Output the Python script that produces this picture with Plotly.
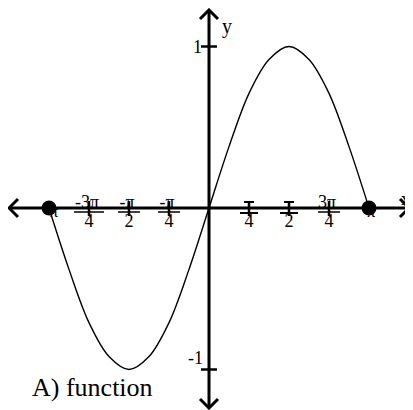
import math
import plotly.graph_objects as go

# curve samples, x in units of pi, y
x_pi = [-1, -0.875, -0.75, -0.625, -0.5, -0.375, -0.25, -0.125, 0,
        0.125, 0.25, 0.375, 0.5, 0.625, 0.75, 0.875, 1]
y_vals = [0, -0.38, -0.71, -0.92, -1.0, -0.92, -0.71, -0.38, 0,
          0.38, 0.71, 0.92, 1.0, 0.92, 0.71, 0.38, 0]

# tick marks on the x axis (units of pi)
tick_pi = [-0.75, -0.5, -0.25, 0.25, 0.5, 0.75]
tick_num = ["-3π", "-π", "-π", "", "", "3π"]
tick_den = ["4", "2", "4", "4", "2", "4"]

end_pi = [-1, 1]
end_labels = ["-π", "π"]

y_ticks = [1, -1]
y_tick_labels = ["1", "-1"]

# the page puts the figure 8px in from the top-left corner
OFF = 8
W, H = 413 - OFF, 410 - OFF
PI = math.pi
# pixel geometry of the picture (screen pixels)
X0, PX_PER_PI = 209, 160
Y0, PX_PER_UNIT = 208, 161.5
xmin = -(X0 - OFF) / PX_PER_PI * PI
xmax = (413 - X0) / PX_PER_PI * PI
ymax = (Y0 - OFF) / PX_PER_UNIT
ymin = -(410 - Y0) / PX_PER_UNIT


def px(x):  # screen pixel -> data x
    return xmin + (x - OFF) / W * (xmax - xmin)


def py(y):  # screen pixel -> data y
    return ymax - (y - OFF) / H * (ymax - ymin)


dx = (xmax - xmin) / W
dy = (ymax - ymin) / H
FONT = "Liberation Serif, DejaVu Serif, serif"

fig = go.Figure()
shapes = []
line_k = dict(color="black", width=3)

# axes
shapes.append(dict(type="line", x0=px(9), x1=px(409), y0=0, y1=0, line=line_k))
shapes.append(dict(type="line", x0=0, x1=0, y0=py(10), y1=py(408), line=line_k))
# arrow heads
a = 9
shapes.append(dict(type="path", line=line_k,
                   path=f"M{px(9)+a*dx},{a*dy} L{px(9)},0 L{px(9)+a*dx},{-a*dy}"))
shapes.append(dict(type="path", line=line_k,
                   path=f"M{px(409)-a*dx},{a*dy} L{px(409)},0 L{px(409)-a*dx},{-a*dy}"))
shapes.append(dict(type="path", line=line_k,
                   path=f"M{-a*dx},{py(10)-a*dy} L0,{py(10)} L{a*dx},{py(10)-a*dy}"))
shapes.append(dict(type="path", line=line_k,
                   path=f"M{-a*dx},{py(408)+a*dy} L0,{py(408)} L{a*dx},{py(408)+a*dy}"))

tick_k = dict(color="black", width=2.5)
for t, num, den in zip(tick_pi, tick_num, tick_den):
    x = t * PI
    shapes.append(dict(type="line", x0=x, x1=x, y0=7 * dy, y1=-8 * dy, line=tick_k))
    half = 15 if num.startswith("-3") else 11
    if num == "":
        # short top serif and a fraction bar for the hidden numerators
        shapes.append(dict(type="line", x0=x - 5 * dx, x1=x + 5 * dx,
                           y0=py(202), y1=py(202), line=dict(color="black", width=2)))
        shapes.append(dict(type="line", x0=x - 9 * dx, x1=x + 9 * dx,
                           y0=py(213), y1=py(213), line=dict(color="black", width=2)))
    else:
        shapes.append(dict(type="line", x0=x - half * dx, x1=x + half * dx,
                           y0=py(212), y1=py(212), line=dict(color="black", width=1.5)))

# y ticks
for v in y_ticks:
    shapes.append(dict(type="line", x0=-8 * dx, x1=8 * dx, y0=v, y1=v, line=tick_k))

fig.add_trace(go.Scatter(
    x=[t * PI - 2 * dx for t in tick_pi], y=[py(203)] * len(tick_pi), text=tick_num,
    mode="text", textfont=dict(family=FONT, size=18, color="black"),
    hoverinfo="skip", showlegend=False))
fig.add_trace(go.Scatter(
    x=[t * PI for t in tick_pi], y=[py(222)] * len(tick_pi), text=tick_den,
    mode="text", textfont=dict(family=FONT, size=18, color="black"),
    hoverinfo="skip", showlegend=False))
fig.add_trace(go.Scatter(
    x=[p * PI + 2 * dx for p in end_pi], y=[py(213)] * 2, text=end_labels,
    mode="text", textfont=dict(family=FONT, size=17, color="black"),
    hoverinfo="skip", showlegend=False))

# curve
fig.add_trace(go.Scatter(
    x=[v * PI for v in x_pi], y=y_vals, mode="lines", line_shape="spline",
    line=dict(color="black", width=1.4), hoverinfo="skip", showlegend=False))

# end points
fig.add_trace(go.Scatter(
    x=[p * PI for p in end_pi], y=[0, 0], mode="markers",
    marker=dict(color="black", size=15), hoverinfo="skip", showlegend=False))

annotations = [
    dict(x=px(405), y=py(199), text="x", showarrow=False,
         font=dict(family=FONT, size=18, color="black")),
    dict(x=px(227), y=py(26), text="y", showarrow=False,
         font=dict(family=FONT, size=20, color="black")),
    dict(x=px(197), y=1, text=y_tick_labels[0], showarrow=False,
         font=dict(family=FONT, size=18, color="black")),
    dict(x=px(195), y=py(358), text=y_tick_labels[1], showarrow=False,
         font=dict(family=FONT, size=18, color="black")),
    dict(x=px(30), y=py(387), text="A) function", showarrow=False, xanchor="left",
         font=dict(family=FONT, size=26, color="black")),
]

fig.update_layout(
    width=W, height=H,
    margin=dict(l=0, r=0, t=0, b=0),
    paper_bgcolor="white", plot_bgcolor="white",
    font=dict(family=FONT),
    xaxis=dict(range=[xmin, xmax], visible=False, fixedrange=True),
    yaxis=dict(range=[ymin, ymax], visible=False, fixedrange=True),
    shapes=shapes, annotations=annotations,
)

fig.write_html("out.html")
